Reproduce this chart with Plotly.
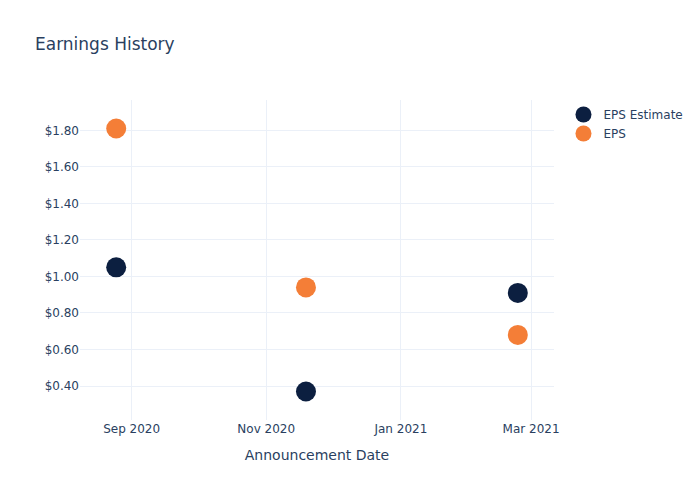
import plotly.graph_objects as go

dates = ["2020-08-25", "2020-11-19", "2021-02-23"]
eps_estimate = [1.05, 0.37, 0.91]
eps_actual = [1.81, 0.94, 0.68]

fig = go.Figure()
fig.add_trace(go.Scatter(x=dates, y=eps_estimate, mode="markers", name="EPS Estimate",
                         marker=dict(size=20, color="#0c1f40")))
fig.add_trace(go.Scatter(x=dates, y=eps_actual, mode="markers", name="EPS",
                         marker=dict(size=20, color="#f47e37")))
fig.update_layout(
    template="plotly_white",
    width=700, height=500,
    font=dict(family="DejaVu Sans"),
    title=dict(text="Earnings History"),
    xaxis=dict(title=dict(text="Announcement Date"), dtick="M2", tickformat="%b %Y"),
    yaxis=dict(tickprefix="$", tickformat=".2f"),
)
fig.write_html("out.html")
